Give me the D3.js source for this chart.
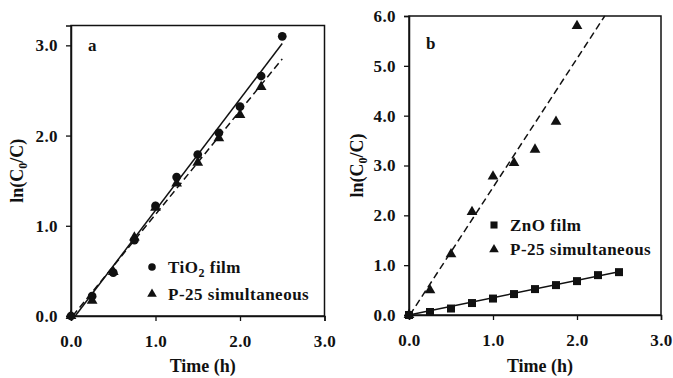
<!DOCTYPE html>
<html><head><meta charset="utf-8">
<script src="https://cdn.jsdelivr.net/npm/d3@7"></script>
<style>
html,body{margin:0;padding:0;background:#fff;}
svg text{font-family:"Liberation Serif","Times New Roman",serif;font-weight:bold;fill:#111;}
</style></head>
<body>
<svg id="chart" width="673" height="378"></svg>
<script>
// ---- Data ----
const timeA = [0, 0.25, 0.5, 0.75, 1.0, 1.25, 1.5, 1.75, 2.0, 2.25, 2.5];
const tio2Film = [0, 0.22, 0.48, 0.84, 1.22, 1.54, 1.79, 2.03, 2.32, 2.66, 3.10];
const timeP25a = [0, 0.25, 0.5, 0.75, 1.0, 1.25, 1.5, 1.75, 2.0, 2.25];
const p25a = [0, 0.17, 0.49, 0.87, 1.20, 1.47, 1.70, 1.97, 2.23, 2.54];
const fitTiO2X = [0.05, 2.5], fitTiO2Y = [0, 3.02];
const fitP25aX = [0.02, 2.5], fitP25aY = [0, 2.85];

const timeB = [0, 0.25, 0.5, 0.75, 1.0, 1.25, 1.5, 1.75, 2.0, 2.25, 2.5];
const znoFilm = [0, 0.06, 0.13, 0.24, 0.33, 0.42, 0.52, 0.60, 0.68, 0.80, 0.86];
const timeP25b = [0, 0.25, 0.5, 0.75, 1.0, 1.25, 1.5, 1.75, 2.0];
const p25b = [0, 0.50, 1.22, 2.07, 2.78, 3.05, 3.32, 3.88, 5.80];
const fitZnOX = [0, 2.5], fitZnOY = [0, 0.87];
const fitP25bX = [0.01, 2.33], fitP25bY = [0, 6.0];

const xTicks = [0, 1, 2, 3];
const yTicksA = [0, 1, 2, 3];
const yTicksB = [0, 1, 2, 3, 4, 5, 6];

const svg = d3.select("#chart");
const fmt = d3.format(".1f");

function panel(cfg) {
  const g = svg.append("g");
  const x = d3.scaleLinear().domain([0, 3]).range([cfg.left, cfg.right]);
  const y = d3.scaleLinear().domain([0, cfg.ymax]).range([cfg.bottom, cfg.top]);

  // frame
  g.append("rect").attr("x", cfg.left).attr("y", cfg.top)
    .attr("width", cfg.right - cfg.left).attr("height", cfg.bottom - cfg.top)
    .attr("fill", "none").attr("stroke", "#111").attr("stroke-width", 1.5);

  const xa = g.append("g").attr("transform", `translate(0,${cfg.bottom})`)
    .call(d3.axisBottom(x).tickValues(xTicks).tickFormat(fmt).tickSize(5).tickPadding(14));
  const ya = g.append("g").attr("transform", `translate(${cfg.left},0)`)
    .call(d3.axisLeft(y).tickValues(cfg.yTicks).tickFormat(fmt).tickSize(5).tickPadding(8));
  [xa, ya].forEach(a => {
    a.select(".domain").attr("stroke", "#111").attr("stroke-width", 1.5);
    a.selectAll(".tick line").attr("stroke", "#111").attr("stroke-width", 1.3);
    a.selectAll("text").attr("font-size", 17).attr("fill", "#111")
      .style("font-family", '"Liberation Serif",serif').style("font-weight", "bold")
      .style("letter-spacing", "0.4px");
  });

  const line = d3.line().x(d => x(d[0])).y(d => y(d[1]));
  cfg.fits.forEach(f => {
    g.append("path").datum(d3.zip(f.xs, f.ys)).attr("d", line)
      .attr("fill", "none").attr("stroke", "#111").attr("stroke-width", 1.5)
      .attr("stroke-dasharray", f.dash ? "7,4" : null);
  });

  cfg.series.forEach(s => {
    const sym = d3.symbol().type(s.type).size(s.size);
    g.selectAll(null).data(d3.zip(s.xs, s.ys)).join("path")
      .attr("d", sym).attr("transform", d => `translate(${x(d[0])},${y(d[1])})`)
      .attr("fill", "#111");
  });

  // panel letter
  g.append("text").attr("x", cfg.left + 17).attr("y", cfg.letterY).attr("font-size", 17).text(cfg.letter);

  // legend
  cfg.series.forEach((s, i) => {
    const ly = cfg.legendY + i * cfg.legendGap;
    g.append("path").attr("d", d3.symbol().type(s.type).size(s.lsize)())
      .attr("transform", `translate(${cfg.legendX},${ly})`).attr("fill", "#111");
    const t = g.append("text").attr("x", cfg.legendX + 16).attr("y", ly + 5.5)
      .attr("font-size", 17).style("letter-spacing", "0.5px");
    s.label.forEach(p => {
      const ts = t.append("tspan").text(p.t);
      if (p.sub) ts.attr("font-size", 12).attr("dy", 4);
      if (p.after) ts.attr("dy", -4);
    });
  });

  // axis titles
  g.append("text").attr("x", (cfg.left + cfg.right) / 2 + 5).attr("y", 372)
    .attr("text-anchor", "middle").attr("font-size", 18).text("Time (h)");
  const yt = g.append("text")
    .attr("transform", `translate(${cfg.ytitleX},${(cfg.top + cfg.bottom) / 2}) rotate(-90)`)
    .attr("text-anchor", "middle").attr("font-size", 18);
  yt.append("tspan").text("ln(C");
  yt.append("tspan").text("0").attr("font-size", 12).attr("dy", 4);
  yt.append("tspan").text("/C)").attr("dy", -4);
}

panel({
  left: 71, right: 324.5, top: 25.5, bottom: 316, ymax: 3.22, yTicks: yTicksA,
  letter: "a", letterY: 51, ytitleX: 23,
  legendX: 152, legendY: 267, legendGap: 27,
  fits: [{xs: fitTiO2X, ys: fitTiO2Y, dash: false}, {xs: fitP25aX, ys: fitP25aY, dash: true}],
  series: [
    {xs: timeA, ys: tio2Film, type: d3.symbolCircle, size: 60, lsize: 45, label: [{t: "TiO"}, {t: "2", sub: true}, {t: " film", after: true}]},
    {xs: timeP25a, ys: p25a, type: d3.symbolTriangle, size: 50, lsize: 40, label: [{t: "P-25 simultaneous"}]}
  ]
});

panel({
  left: 409, right: 661, top: 16, bottom: 315, ymax: 6, yTicks: yTicksB,
  letter: "b", letterY: 49, ytitleX: 363,
  legendX: 494, legendY: 225, legendGap: 24.5,
  fits: [{xs: fitZnOX, ys: fitZnOY, dash: false}, {xs: fitP25bX, ys: fitP25bY, dash: true}],
  series: [
    {xs: timeB, ys: znoFilm, type: d3.symbolSquare, size: 64, lsize: 50, label: [{t: "ZnO film"}]},
    {xs: timeP25b, ys: p25b, type: d3.symbolTriangle, size: 50, lsize: 40, label: [{t: "P-25 simultaneous"}]}
  ]
});
</script>
</body></html>
